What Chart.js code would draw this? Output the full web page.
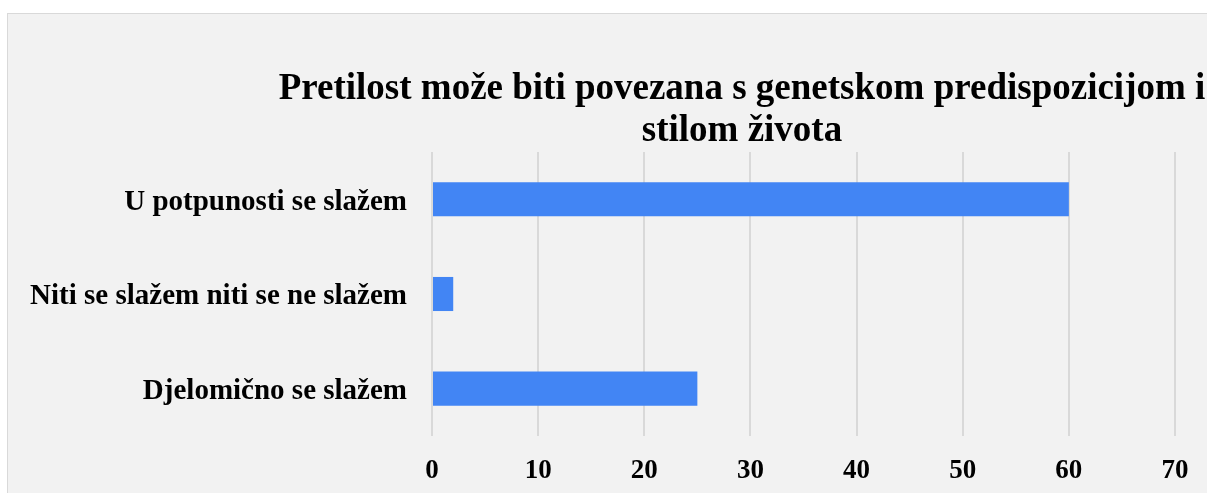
<!DOCTYPE html>
<html>
<head>
<meta charset="utf-8">
<script src="https://cdn.jsdelivr.net/npm/chart.js@4"></script>
<style>
    html, body { margin: 0; padding: 0; background: #ffffff; overflow: hidden; }
    #panel {
        position: absolute;
        left: 7px;
        top: 13px;
        width: 1468px;
        height: 520px;
        background: #f2f2f2;
        border: 1px solid #d9d9d9;
        border-right: 0;
    }
    #chart { display: block; }
</style>
</head>
<body>
<div id="panel">
    <canvas id="chart" width="1468" height="479"></canvas>
</div>
<script>
const chartTitle = ['Pretilost može biti povezana s genetskom predispozicijom i', 'stilom života'];
const categories = ['U potpunosti se slažem', 'Niti se slažem niti se ne slažem', 'Djelomično se slažem'];
const responses = [60, 2, 25];
const axisMin = 0;
const axisMax = 70;
const axisStep = 10;

const serif = "'Liberation Serif', 'Times New Roman', serif";

const ctx = document.getElementById('chart').getContext('2d');

new Chart(ctx, {
    type: 'bar',
    data: {
        labels: categories,
        datasets: [{
            data: responses,
            backgroundColor: '#4285f4',
            borderWidth: 0,
            barPercentage: 0.6,
            categoryPercentage: 0.6
        }]
    },
    options: {
        indexAxis: 'y',
        responsive: false,
        animation: false,
        plugins: {
            legend: { display: false },
            tooltip: { enabled: false },
            title: {
                display: true,
                text: chartTitle,
                color: '#000000',
                font: { family: serif, size: 37, weight: 'bold', lineHeight: 1.135 },
                padding: { top: 54, bottom: 0 }
            }
        },
        scales: {
            x: {
                min: axisMin,
                max: axisMax,
                border: { display: false },
                grid: {
                    color: '#d9d9d9',
                    lineWidth: 2,
                    drawTicks: false
                },
                ticks: {
                    stepSize: axisStep,
                    color: '#000000',
                    padding: 19,
                    maxRotation: 0,
                    font: { family: serif, size: 27, weight: 'bold' }
                },
                afterFit(scale) {
                    scale.height = 57;
                }
            },
            y: {
                border: { display: false },
                grid: { display: false, drawTicks: false },
                ticks: {
                    color: '#000000',
                    padding: 25,
                    labelOffset: 3,
                    font: { family: serif, size: 29, weight: 'bold' }
                },
                afterFit(scale) {
                    scale.width = 424;
                }
            },
            // empty space on the right, the chart is cropped there
            spacer: {
                type: 'linear',
                position: 'right',
                border: { display: false },
                grid: { display: false, drawTicks: false },
                ticks: { display: false },
                afterFit(scale) {
                    scale.width = 301;
                }
            }
        }
    }
});
</script>
</body>
</html>
